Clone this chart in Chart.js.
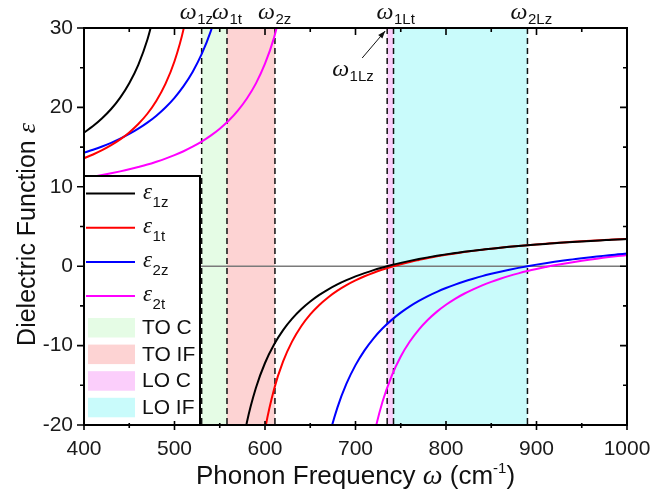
<!DOCTYPE html>
<html>
<head>
<meta charset="utf-8">
<script src="https://cdn.jsdelivr.net/npm/chart.js@4.4.1/dist/chart.umd.min.js"></script>
<style>
  html, body { margin: 0; padding: 0; background: #fff; }
  canvas { display: block; }
</style>
</head>
<body>
<canvas id="chart" width="651" height="496"></canvas>
<script>
// Frequency grid (cm^-1) shared by all dielectric-function curves
const freq = [400,410,420,430,440,450,460,470,480,490,500,510,520,530,540,550,560,570,580,590,
              600,610,620,630,640,650,660,670,680,690,700,710,720,730,740,750,760,770,780,790,
              800,810,820,830,840,850,860,870,880,890,900,910,920,930,940,950,960,970,980,990,1000];

// Dielectric function values; null marks the pole region between branches
const eps1z = [16.83,17.65,18.63,19.80,21.24,23.05,25.37,28.52,32.82,
               null,null,null,null,null,null,null,null,
               -26.18,-19.65,-15.30,-12.19,-9.86,-8.05,-6.61,-5.43,-4.45,-3.62,-2.91,-2.29,-1.76,-1.29,
               -0.87,-0.49,-0.16,0.15,0.42,0.67,0.90,1.11,1.31,1.49,1.65,1.81,1.95,2.08,2.21,2.33,
               2.44,2.54,2.64,2.73,2.81,2.90,2.97,3.05,3.12,3.18,3.25,3.31,3.37,3.42];
const eps1t = [13.60,14.07,14.61,15.24,15.97,16.85,17.91,19.20,20.84,22.96,25.81,29.86,36.04,
               null,null,null,null,null,null,
               -29.04,-20.65,-15.49,-11.99,-9.47,-7.56,-6.07,-4.88,-3.90,-3.08,-2.38,-1.79,-1.27,-0.82,
               -0.42,-0.07,0.25,0.54,0.79,1.03,1.24,1.43,1.61,1.78,1.93,2.07,2.20,2.33,2.44,2.55,
               2.65,2.74,2.83,2.91,2.99,3.07,3.14,3.20,3.27,3.33,3.38,3.44];
const eps2z = [14.29,14.67,15.08,15.54,16.06,16.65,17.32,18.08,18.96,19.99,21.21,22.68,24.47,26.70,29.57,33.39,
               null,null,null,null,null,null,null,null,null,null,
               -27.53,-21.85,-17.81,-14.80,-12.46,-10.60,-9.08,-7.82,-6.76,-5.85,-5.06,-4.37,-3.76,-3.23,
               -2.75,-2.32,-1.93,-1.58,-1.25,-0.96,-0.69,-0.44,-0.21,0,0.20,0.38,0.55,0.71,0.86,1.01,
               1.14,1.26,1.38,1.49,1.60];
const eps2t = [11.10,11.28,11.48,11.70,11.94,12.20,12.49,12.80,13.16,13.55,13.99,14.48,15.05,15.69,16.44,
               17.32,18.35,19.60,21.12,23.03,25.50,28.79,33.40,
               null,null,null,null,null,null,null,null,
               -28.28,-21.53,-17.02,-13.80,-11.37,-9.49,-7.98,-6.75,-5.72,-4.86,-4.11,-3.47,-2.91,-2.41,
               -1.97,-1.58,-1.22,-0.90,-0.61,-0.35,-0.11,0.12,0.32,0.51,0.69,0.85,1.00,1.15,1.28,1.40];

const seriesSubs = ['1z', '1t', '2z', '2t'];

// Characteristic phonon frequencies (dashed lines) and their labels
const modeFreq = [530, 558, 611, 735, 742, 890];
const modeSubs = ['1z', '1t', '2z', '1Lz', '1Lt', '2Lz'];

// Shaded frequency bands
const bandNames = ['TO C', 'TO IF', 'LO C', 'LO IF'];
const bandFrom  = [530, 558, 735, 742];
const bandTo    = [558, 611, 742, 890];

// Axis ticks
const xTickValues = [400, 500, 600, 700, 800, 900, 1000];
const yTickValues = [-20, -10, 0, 10, 20, 30];

// ---- styling ----
const lineColors = ['#000000', '#ff0000', '#0000ff', '#ff00ff'];
const bandColors = ['#e5fce5', '#fdd3d3', '#fbcefb', '#c9fbfb'];
const SANS = '"Liberation Sans", Arial, sans-serif';
const SERIF = '"Liberation Serif", "DejaVu Serif", serif';
const topLabelNudge = { '1z': -5, '1t': 2 };

function symbolWithSub(ctx, x, base, sym, sub, symPx, subPx, drop) {
  ctx.font = `italic ${symPx}px ${SERIF}`;
  const w = ctx.measureText(sym).width;
  ctx.fillText(sym, x, base);
  ctx.font = `${subPx}px ${SANS}`;
  ctx.fillText(sub, x + w + 0.5, base + drop);
}
function symWidth(ctx, sym, symPx) {
  ctx.font = `italic ${symPx}px ${SERIF}`;
  return ctx.measureText(sym).width;
}

const decor = {
  id: 'decor',
  beforeDatasetsDraw(chart) {
    const { ctx, chartArea: a, scales: { x, y } } = chart;
    ctx.save();
    // bands
    bandFrom.forEach((f, i) => {
      const x0 = x.getPixelForValue(f), x1 = x.getPixelForValue(bandTo[i]);
      ctx.fillStyle = bandColors[i];
      ctx.fillRect(x0, a.top, x1 - x0, a.bottom - a.top);
    });
    // mode lines
    ctx.strokeStyle = '#111';
    ctx.lineWidth = 1.5;
    ctx.setLineDash([6, 4]);
    modeFreq.forEach(f => {
      const xp = x.getPixelForValue(f);
      ctx.beginPath();
      ctx.moveTo(xp, a.top);
      ctx.lineTo(xp, a.bottom);
      ctx.stroke();
    });
    ctx.setLineDash([]);
    // zero line
    const y0 = y.getPixelForValue(0);
    ctx.strokeStyle = '#7a7a7a';
    ctx.lineWidth = 1.5;
    ctx.beginPath();
    ctx.moveTo(a.left, y0);
    ctx.lineTo(a.right, y0);
    ctx.stroke();
    ctx.restore();
  },
  afterDatasetsDraw(chart) {
    const { ctx, chartArea: a, scales: { x, y } } = chart;
    ctx.save();
    ctx.fillStyle = '#111';
    ctx.textBaseline = 'alphabetic';
    ctx.textAlign = 'left';

    // legend box
    const lx = a.left, ly = 176, lw = 116, lh = a.bottom - ly;
    ctx.fillStyle = '#fff';
    ctx.fillRect(lx, ly, lw, lh);
    ctx.lineWidth = 2;
    ctx.strokeStyle = '#000';
    ctx.strokeRect(lx, ly, lw, lh);
    seriesSubs.forEach((s, i) => {
      const ry = 193.5 + i * 34.2;
      ctx.strokeStyle = lineColors[i];
      ctx.lineWidth = 2;
      ctx.beginPath();
      ctx.moveTo(lx + 2, ry);
      ctx.lineTo(lx + 51, ry);
      ctx.stroke();
      ctx.fillStyle = '#111';
      symbolWithSub(ctx, lx + 59, ry + 5, '\u03b5', s, 23, 15, 8);
    });
    bandNames.forEach((n, i) => {
      const ry = 318 + i * 26.6;
      ctx.fillStyle = bandColors[i];
      ctx.fillRect(lx + 4, ry, 47, 19.5);
      ctx.fillStyle = '#111';
      ctx.font = `21px ${SANS}`;
      ctx.textBaseline = 'middle';
      ctx.fillText(n, lx + 58, ry + 10.5);
      ctx.textBaseline = 'alphabetic';
    });

    // labels above the plot for each mode line
    ctx.fillStyle = '#111';
    modeFreq.forEach((f, i) => {
      const s = modeSubs[i];
      if (s === '1Lz') return;
      const xp = x.getPixelForValue(f) + (topLabelNudge[s] || 0);
      const w = symWidth(ctx, '\u03c9', 24);
      symbolWithSub(ctx, xp - w, 18.5, '\u03c9', s, 24, 15, 5);
    });

    // annotated label with arrow pointing to its line
    const iLz = modeSubs.indexOf('1Lz');
    const tipX = x.getPixelForValue(modeFreq[iLz]) - 2;
    const tipY = a.top + 3;
    symbolWithSub(ctx, tipX - 53, tipY + 45, '\u03c9', '1Lz', 24, 15, 5);
    const tailX = tipX - 23, tailY = tipY + 27;
    ctx.strokeStyle = '#111';
    ctx.lineWidth = 1;
    ctx.beginPath();
    ctx.moveTo(tailX, tailY);
    ctx.lineTo(tipX, tipY);
    ctx.stroke();
    const ang = Math.atan2(tipY - tailY, tipX - tailX);
    ctx.beginPath();
    ctx.moveTo(tipX, tipY);
    ctx.lineTo(tipX - 8 * Math.cos(ang - 0.35), tipY - 8 * Math.sin(ang - 0.35));
    ctx.lineTo(tipX - 8 * Math.cos(ang + 0.35), tipY - 8 * Math.sin(ang + 0.35));
    ctx.closePath();
    ctx.fill();

    // frame
    ctx.strokeStyle = '#000';
    ctx.lineWidth = 2;
    ctx.strokeRect(a.left, a.top, a.right - a.left, a.bottom - a.top);

    // tick marks (major + minor) on all four sides
    ctx.lineWidth = 1.6;
    const xMinor = xTickValues.slice(1).map((v, i) => (v + xTickValues[i]) / 2);
    const yMinor = yTickValues.slice(1).map((v, i) => (v + yTickValues[i]) / 2);
    ctx.beginPath();
    xTickValues.forEach(v => {
      const p = x.getPixelForValue(v);
      ctx.moveTo(p, a.bottom - 4); ctx.lineTo(p, a.bottom + 5);
      ctx.moveTo(p, a.top); ctx.lineTo(p, a.top + 7);
    });
    xMinor.forEach(v => {
      const p = x.getPixelForValue(v);
      ctx.moveTo(p, a.bottom - 2); ctx.lineTo(p, a.bottom + 3);
      ctx.moveTo(p, a.top); ctx.lineTo(p, a.top + 4);
    });
    yTickValues.forEach(v => {
      const p = y.getPixelForValue(v);
      ctx.moveTo(a.left - 7, p); ctx.lineTo(a.left, p);
      ctx.moveTo(a.right, p); ctx.lineTo(a.right - 7, p);
    });
    yMinor.forEach(v => {
      const p = y.getPixelForValue(v);
      ctx.moveTo(a.left - 4, p); ctx.lineTo(a.left, p);
      ctx.moveTo(a.right, p); ctx.lineTo(a.right - 4, p);
    });
    ctx.stroke();
    ctx.restore();
  },
  afterDraw(chart) {
    const { ctx, chartArea: a } = chart;
    ctx.save();
    ctx.fillStyle = '#111';
    ctx.textBaseline = 'alphabetic';
    ctx.textAlign = 'left';

    // y-axis title
    const yParts = [
      { t: 'Dielectric Function ', f: `25px ${SANS}` },
      { t: '\u03b5', f: `italic 26px ${SERIF}` }
    ];
    let total = 0;
    yParts.forEach(p => { ctx.font = p.f; p.w = ctx.measureText(p.t).width; total += p.w; });
    ctx.translate(35, (a.top + a.bottom) / 2 + 8);
    ctx.rotate(-Math.PI / 2);
    let cx = -total / 2;
    yParts.forEach(p => { ctx.font = p.f; ctx.fillText(p.t, cx, 0); cx += p.w; });
    ctx.setTransform(1, 0, 0, 1, 0, 0);

    // x-axis title
    const xParts = [
      { t: 'Phonon Frequency ', f: `26px ${SANS}`, dy: 0 },
      { t: '\u03c9', f: `italic 28px ${SERIF}`, dy: 0 },
      { t: ' (cm', f: `26px ${SANS}`, dy: 0 },
      { t: '-1', f: `15px ${SANS}`, dy: -11 },
      { t: ')', f: `26px ${SANS}`, dy: 0 }
    ];
    total = 0;
    xParts.forEach(p => { ctx.font = p.f; p.w = ctx.measureText(p.t).width; total += p.w; });
    cx = (a.left + a.right) / 2 - total / 2;
    xParts.forEach(p => { ctx.font = p.f; ctx.fillText(p.t, cx, 484 + p.dy); cx += p.w; });
    ctx.restore();
  }
};

const datasets = [eps1z, eps1t, eps2z, eps2t].map((vals, i) => ({
  label: '\u03b5' + seriesSubs[i],
  data: freq.map((f, k) => ({ x: f, y: vals[k] })),
  borderColor: lineColors[i],
  borderWidth: 2,
  pointRadius: 0,
  fill: false,
  spanGaps: false,
  cubicInterpolationMode: 'monotone'
}));

new Chart(document.getElementById('chart'), {
  type: 'line',
  data: { datasets },
  plugins: [decor],
  options: {
    responsive: false,
    animation: false,
    events: [],
    layout: { padding: { top: 28, right: 24, left: 0, bottom: 0 } },
    plugins: { legend: { display: false }, tooltip: { enabled: false } },
    scales: {
      x: {
        type: 'linear', min: 400, max: 1000,
        grid: { display: false, drawTicks: false },
        border: { display: false },
        afterBuildTicks: s => { s.ticks = xTickValues.map(v => ({ value: v })); },
        afterFit: s => { s.height = 71; s.paddingLeft = 0; s.paddingRight = 0; },
        ticks: { padding: 12, color: '#1a1a1a', font: { family: SANS, size: 21 }, maxRotation: 0,
                 callback: v => String(v) }
      },
      y: {
        type: 'linear', min: -20, max: 30,
        grid: { display: false, drawTicks: false },
        border: { display: false },
        afterBuildTicks: s => { s.ticks = yTickValues.map(v => ({ value: v })); },
        afterFit: s => { s.width = 84; s.paddingTop = 0; s.paddingBottom = 0; },
        ticks: { padding: 11, color: '#1a1a1a', font: { family: SANS, size: 21 },
                 callback: v => String(v) }
      }
    }
  }
});
</script>
</body>
</html>
